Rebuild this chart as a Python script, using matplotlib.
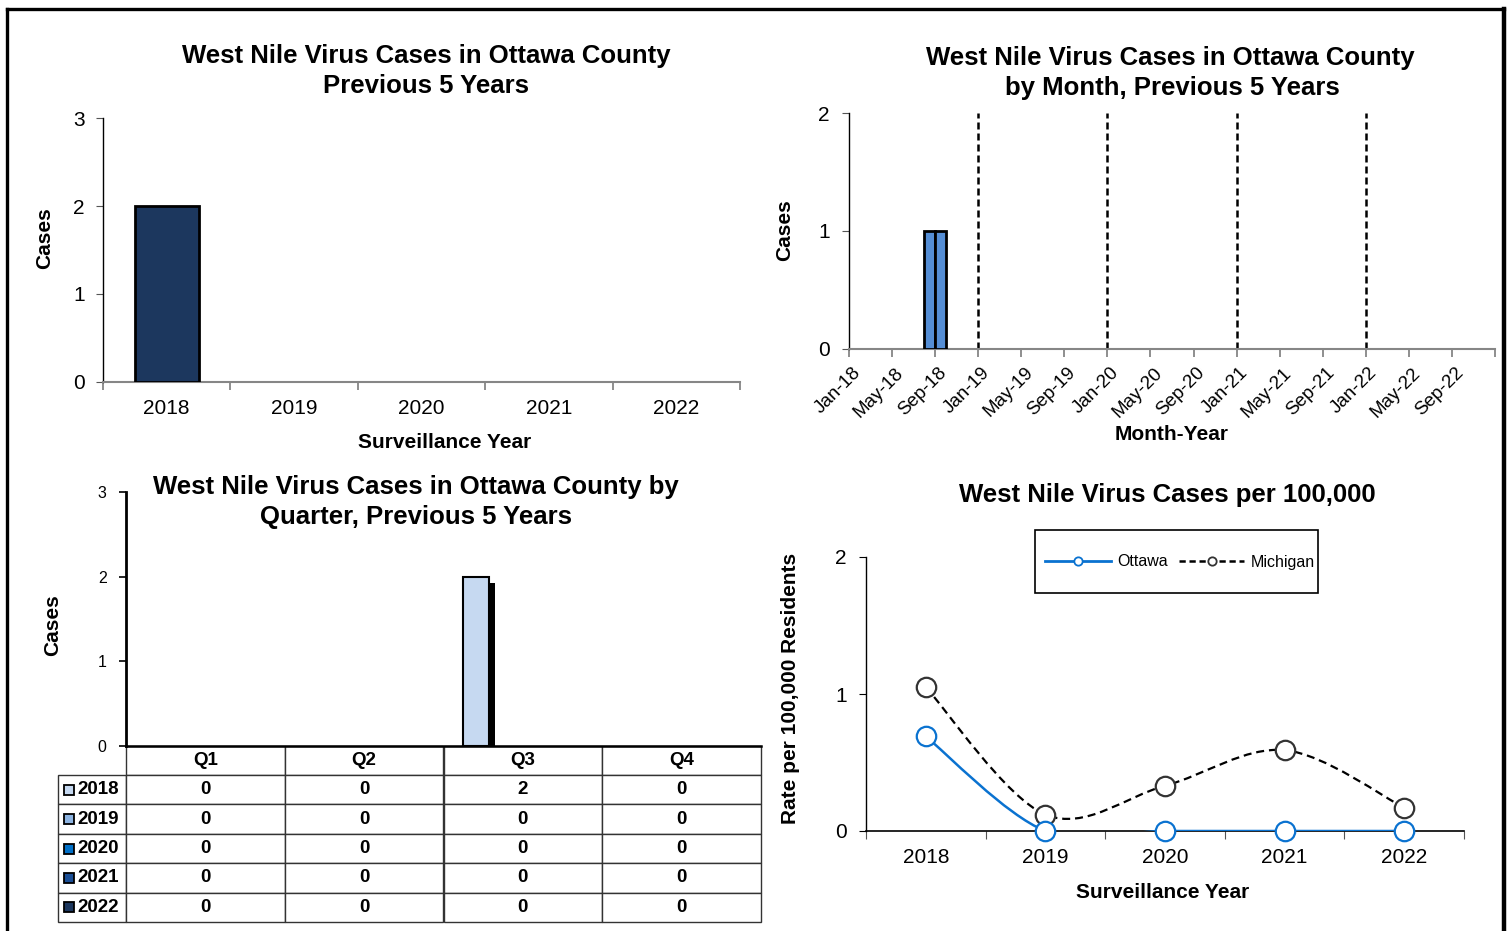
import matplotlib
matplotlib.use("Agg")
import matplotlib.pyplot as plt
import matplotlib.transforms as mtrans
from matplotlib.path import Path
from matplotlib.patches import PathPatch, Rectangle
from matplotlib.table import Table
from matplotlib.lines import Line2D
import matplotlib.patheffects as pe

plt.rcParams['font.family'] = ['Liberation Sans', 'DejaVu Sans']

# ---------------- data ----------------
years = ['2018', '2019', '2020', '2021', '2022']
annual_cases = [2, 0, 0, 0, 0]

months_2018 = [0, 0, 0, 0, 0, 0, 0, 1, 1, 0, 0, 0]
months_2019 = [0, 0, 0, 0, 0, 0, 0, 0, 0, 0, 0, 0]
months_2020 = [0, 0, 0, 0, 0, 0, 0, 0, 0, 0, 0, 0]
months_2021 = [0, 0, 0, 0, 0, 0, 0, 0, 0, 0, 0, 0]
months_2022 = [0, 0, 0, 0, 0, 0, 0, 0, 0, 0, 0, 0]
month_tick_labels = ['Jan-18', 'May-18', 'Sep-18', 'Jan-19', 'May-19', 'Sep-19',
                     'Jan-20', 'May-20', 'Sep-20', 'Jan-21', 'May-21', 'Sep-21',
                     'Jan-22', 'May-22', 'Sep-22']

quarters = ['Q1', 'Q2', 'Q3', 'Q4']
q_2018 = [0, 0, 2, 0]
q_2019 = [0, 0, 0, 0]
q_2020 = [0, 0, 0, 0]
q_2021 = [0, 0, 0, 0]
q_2022 = [0, 0, 0, 0]

rate_ottawa = [0.69, 0, 0, 0, 0]
rate_michigan = [1.05, 0.12, 0.33, 0.59, 0.17]

# ---------------- figure ----------------
W, H = 1509, 931
fig = plt.figure(figsize=(W / 100, H / 100), dpi=100)


def add_ax(x0, y0, x1, y1):
    return fig.add_axes([x0 / W, 1 - y1 / H, (x1 - x0) / W, (y1 - y0) / H])


def ftext(x, y, s, **kw):
    fig.text(x / W, 1 - y / H, s, ha='center', va='center', **kw)


TITLE = 18.5
LAB = 15

# outer frame
fig.add_artist(Line2D([6.5 / W, 6.5 / W], [0, 1 - 8.5 / H], transform=fig.transFigure, color='black', lw=2.4))
fig.add_artist(Line2D([6.5 / W, 1504 / W], [1 - 8.5 / H, 1 - 8.5 / H], transform=fig.transFigure, color='black', lw=2.4))
fig.add_artist(Line2D([1504 / W, 1504 / W], [0, 1 - 8.5 / H], transform=fig.transFigure, color='black', lw=3.2))


def bar_edges(vals):
    return ['black' if v else 'none' for v in vals]


# ---------------- top-left: annual bars ----------------
ax1 = add_ax(103, 118, 740, 382)
xs = list(range(len(years)))
ax1.bar(xs, annual_cases, width=0.5, color='#1c375e', edgecolor=bar_edges(annual_cases), lw=2, zorder=3)
ax1.set_xlim(-0.5, 4.5)
ax1.set_ylim(0, 3)
ax1.set_yticks([0, 1, 2, 3])
ax1.tick_params(axis='y', labelsize=LAB, length=5, pad=8, color='#555555')
ax1.set_xticks([i - 0.5 for i in range(6)])
ax1.set_xticklabels([])
ax1.set_xticks(xs, minor=True)
ax1.set_xticklabels(years, minor=True)
ax1.tick_params(axis='x', which='major', length=6, color='#868686', width=1.3)
ax1.tick_params(axis='x', which='minor', length=0, pad=12, labelsize=LAB)
for s in ['top', 'right']:
    ax1.spines[s].set_visible(False)
ax1.spines['bottom'].set_color('#868686')
ax1.spines['bottom'].set_linewidth(1.5)
ax1.spines['left'].set_linewidth(1)
ftext(426, 56, 'West Nile Virus Cases in Ottawa County', fontsize=TITLE, fontweight='bold')
ftext(426, 86, 'Previous 5 Years', fontsize=TITLE, fontweight='bold')
ftext(45, 238, 'Cases', fontsize=LAB, fontweight='bold', rotation=90)
ftext(445, 442, 'Surveillance Year', fontsize=LAB, fontweight='bold')

# ---------------- top-right: monthly bars ----------------
ax2 = add_ax(849, 113, 1495, 349)
monthly = months_2018 + months_2019 + months_2020 + months_2021 + months_2022
ax2.bar(range(len(monthly)), monthly, width=1, align='edge', color='#558ed5',
        edgecolor=bar_edges(monthly), lw=2, zorder=3)
for yb in [12, 24, 36, 48]:
    ax2.axvline(yb, color='black', lw=1.8, ls=(0, (2.8, 1.6)), zorder=2)
ax2.set_xlim(0, 60)
ax2.set_ylim(0, 2)
ax2.set_yticks([0, 1, 2])
ax2.tick_params(axis='y', labelsize=LAB, length=5, pad=9, color='#555555')
ax2.set_xticks(list(range(0, 61, 4)))
ax2.set_xticklabels(month_tick_labels + [''], rotation=45, ha='right', va='top',
                    rotation_mode='anchor', fontsize=13.5)
ax2.tick_params(axis='x', length=6, color='#868686', width=1.3, pad=5)
off = mtrans.ScaledTranslation(3 / 100, 0, fig.dpi_scale_trans)
for lbl in ax2.get_xticklabels():
    lbl.set_transform(lbl.get_transform() + off)
for s in ['top', 'right']:
    ax2.spines[s].set_visible(False)
ax2.spines['bottom'].set_color('#868686')
ax2.spines['bottom'].set_linewidth(1.5)
ax2.spines['left'].set_linewidth(1)
ftext(1170, 58, 'West Nile Virus Cases in Ottawa County', fontsize=TITLE, fontweight='bold')
ftext(1172, 88, 'by Month, Previous 5 Years', fontsize=TITLE, fontweight='bold')
ftext(785, 230, 'Cases', fontsize=LAB, fontweight='bold', rotation=90)
ftext(1172, 434, 'Month-Year', fontsize=LAB, fontweight='bold')

# ---------------- bottom-left: quarterly bars + table ----------------
ax3 = add_ax(126, 492, 761, 746)
q_series = [q_2018, q_2019, q_2020, q_2021, q_2022]
q_colors = ['#c6d9f1', '#8db4e2', '#0070c8', '#1a4e95', '#1c375e']
bw = 0.164
for i, (vals, col) in enumerate(zip(q_series, q_colors)):
    bars = ax3.bar([q + (i - 1.8) * bw for q in range(len(quarters))], vals, width=bw, color=col,
                   edgecolor=bar_edges(vals), lw=1.5, zorder=3)
    for rect, v in zip(bars, vals):
        if v:
            rect.set_path_effects([pe.SimplePatchShadow(offset=(4.3, -4.3), shadow_rgbFace='black', alpha=1),
                                   pe.Normal()])
ax3.set_xlim(-0.5, 3.5)
ax3.set_ylim(0, 3)
ax3.set_yticks([0, 1, 2, 3])
ax3.tick_params(axis='y', labelsize=11.5, length=5, pad=9, width=1.2)
ax3.set_xticks([])
for s in ['top', 'right']:
    ax3.spines[s].set_visible(False)
ax3.spines['left'].set_linewidth(2)
ax3.spines['bottom'].set_linewidth(1.8)

aw, ah = 761 - 126, 746 - 492
row_h = (922 - 775) / 5
tb = Table(ax3, bbox=[0, (746 - 922) / ah, 1, (922 - 746) / ah])
TFS = 13.5
EC = '#333333'
cells = []
for j, q in enumerate(quarters):
    cells.append(tb.add_cell(0, j, width=1 / 4, height=29 / ah, text=q, loc='center', edgecolor=EC))
for i, (yr, vals) in enumerate(zip(years, q_series)):
    cells.append(tb.add_cell(i + 1, -1, width=68 / aw, height=row_h / ah, text=yr, loc='right', edgecolor=EC))
    for j, v in enumerate(vals):
        cells.append(tb.add_cell(i + 1, j, width=1 / 4, height=row_h / ah, text=str(v), loc='center', edgecolor=EC))
tb.auto_set_font_size(False)
tb.set_fontsize(TFS)
for c in cells:
    c.get_text().set_fontweight('bold')
    c.get_text().set_fontsize(TFS)
tb.set_clip_on(False)
ax3.add_table(tb)
for i, col in enumerate(q_colors):
    ypx = 775 + row_h * (i + 0.5)
    ax3.plot([(69 - 126) / aw], [(746 - ypx) / ah], marker='s', ms=7.5, mfc=col, mec='black',
             mew=1.3, transform=ax3.transAxes, clip_on=False, zorder=10)
ftext(416, 487, 'West Nile Virus Cases in Ottawa County by', fontsize=TITLE, fontweight='bold')
ftext(416, 517, 'Quarter, Previous 5 Years', fontsize=TITLE, fontweight='bold')
ftext(53, 625, 'Cases', fontsize=LAB, fontweight='bold', rotation=90)

# ---------------- bottom-right: rates ----------------
ax4 = add_ax(866, 557, 1464, 831)


def smooth_path(xv, yv):
    pts = list(zip(xv, yv))
    n = len(pts)
    verts = [pts[0]]
    codes = [Path.MOVETO]
    for i in range(n - 1):
        p0 = pts[i - 1] if i > 0 else pts[i]
        p1 = pts[i]
        p2 = pts[i + 1]
        p3 = pts[i + 2] if i + 2 < n else pts[i + 1]
        c1 = (p1[0] + (p2[0] - p0[0]) / 6, p1[1] + (p2[1] - p0[1]) / 6)
        c2 = (p2[0] - (p3[0] - p1[0]) / 6, p2[1] - (p3[1] - p1[1]) / 6)
        verts += [c1, c2, p2]
        codes += [Path.CURVE4] * 3
    return Path(verts, codes)


xs4 = list(range(len(years)))
OTT = '#0a72d0'
ax4.add_patch(PathPatch(smooth_path(xs4, rate_michigan), facecolor='none', edgecolor='black',
                        lw=1.6, ls=(0, (3.6, 2.2)), zorder=3))
ax4.add_patch(PathPatch(smooth_path(xs4, rate_ottawa), facecolor='none', edgecolor=OTT,
                        lw=1.8, zorder=4))
ax4.plot(xs4, rate_michigan, 'o', ls='none', ms=14, mfc='white', mec='#333333', mew=1.6,
         clip_on=False, zorder=5)
ax4.plot(xs4, rate_ottawa, 'o', ls='none', ms=14, mfc='white', mec=OTT, mew=1.6,
         clip_on=False, zorder=6)
ax4.set_xlim(-0.5, 4.5)
ax4.set_ylim(0, 2)
ax4.set_yticks([0, 1, 2])
ax4.tick_params(axis='y', labelsize=LAB, length=5, pad=9)
ax4.set_xticks([i - 0.5 for i in range(6)])
ax4.set_xticklabels([])
ax4.set_xticks(xs4, minor=True)
ax4.set_xticklabels(years, minor=True)
ax4.tick_params(axis='x', which='major', length=6, color='#555555')
ax4.tick_params(axis='x', which='minor', length=0, pad=12, labelsize=LAB)
for s in ['top', 'right']:
    ax4.spines[s].set_visible(False)
ax4.spines['left'].set_linewidth(1)
ax4.spines['bottom'].set_linewidth(1.2)

fig.add_artist(Rectangle((1035 / W, 1 - 593 / H), (1318 - 1035) / W, (593 - 530) / H,
                         transform=fig.transFigure, facecolor='white', edgecolor='black', lw=1.2))
proxies = [Line2D([], [], color=OTT, lw=2, marker='o', ms=6, mfc='white', mec=OTT, mew=1.3),
           Line2D([], [], color='black', lw=1.8, ls=(0, (2.5, 1.5)), marker='o', ms=6,
                  mfc='white', mec='#333333', mew=1.3)]
fig.legend(proxies, ['Ottawa', 'Michigan'], loc='center', bbox_to_anchor=(1180 / W, 1 - 562 / H),
           ncol=2, frameon=False, fontsize=11.5, handlelength=4.1, handletextpad=0.4,
           columnspacing=0.7)

ftext(1167, 495, 'West Nile Virus Cases per 100,000', fontsize=TITLE, fontweight='bold')
ftext(790, 688, 'Rate per 100,000 Residents', fontsize=LAB, fontweight='bold', rotation=90)
ftext(1163, 892, 'Surveillance Year', fontsize=LAB, fontweight='bold')

fig.savefig('out.png', dpi=100)
